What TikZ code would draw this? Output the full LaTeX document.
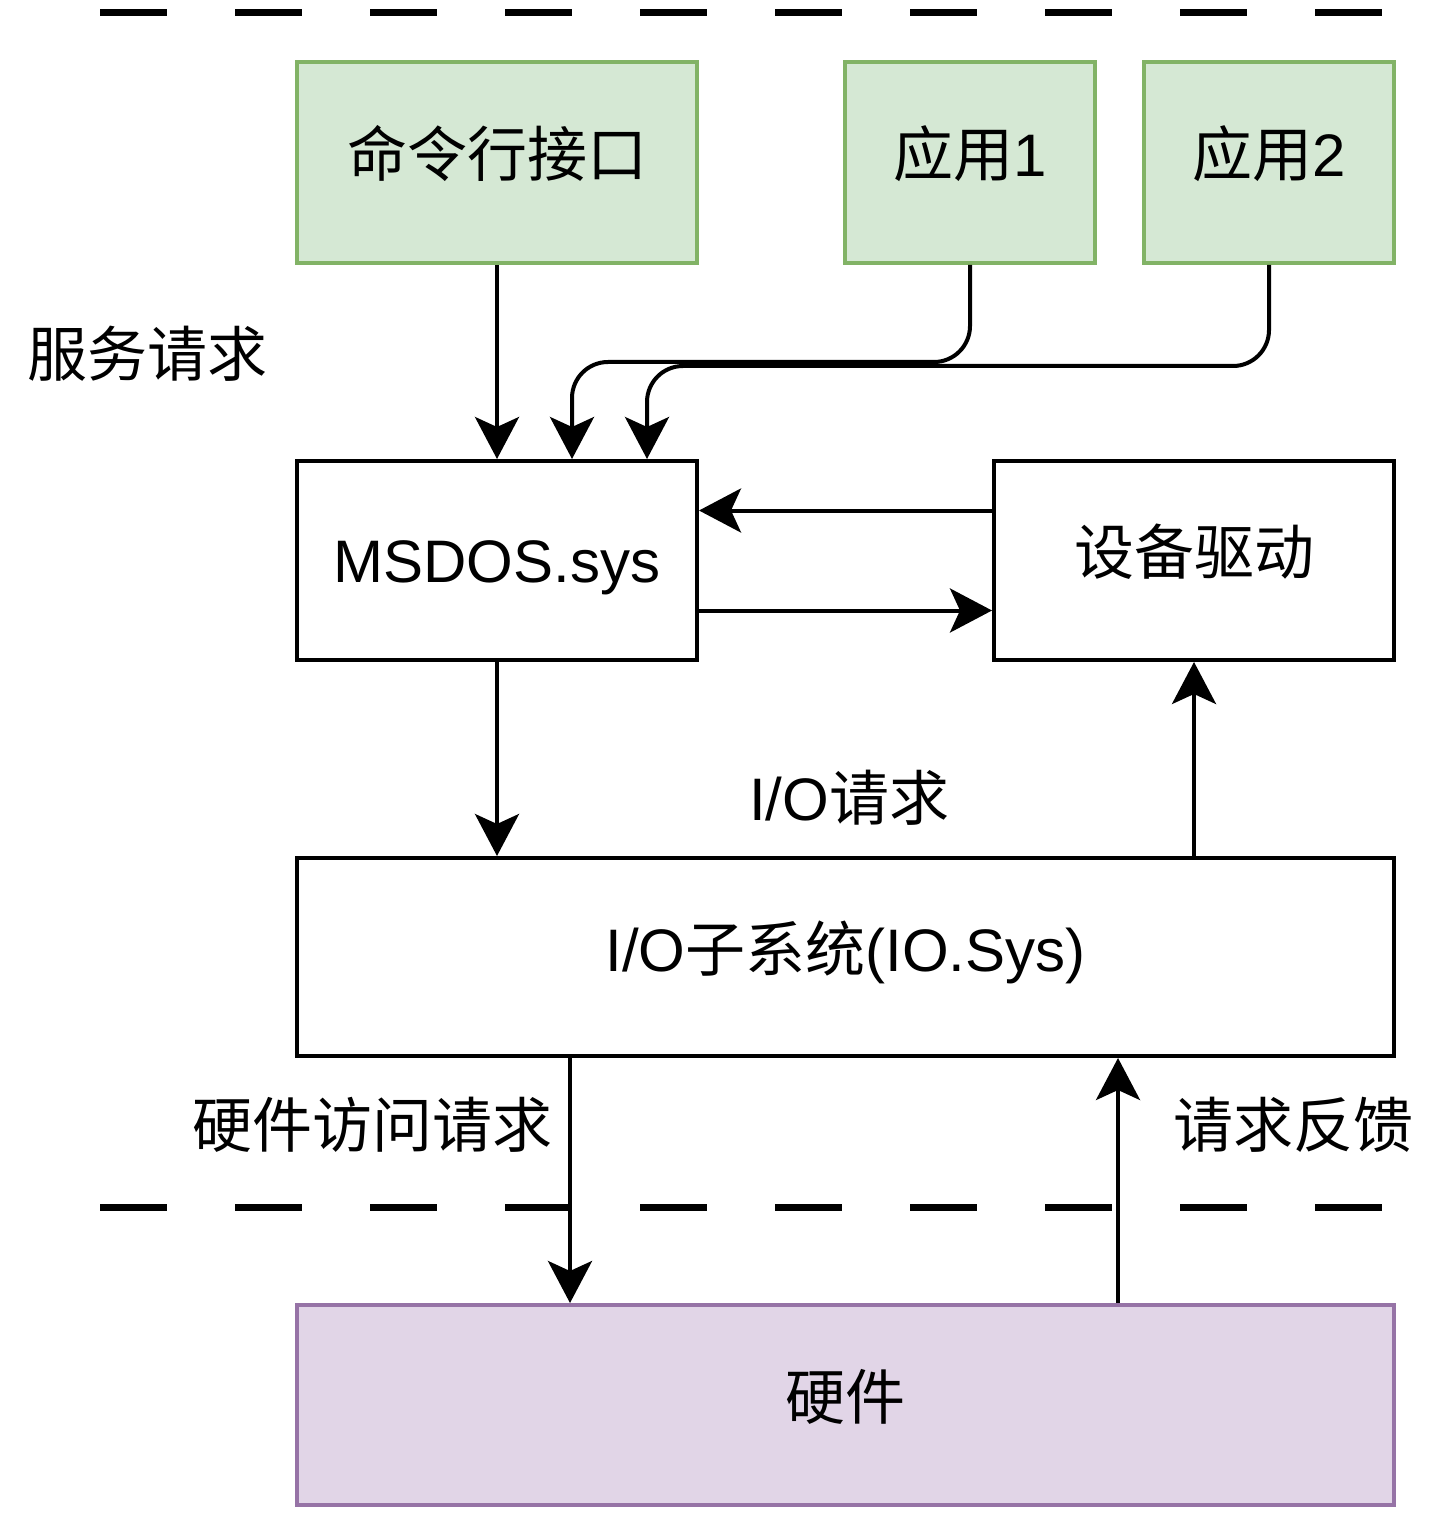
\documentclass[tikz,border=0pt]{standalone}
\usepackage{fontspec}
\setmainfont{Liberation Sans}
\newfontfamily\cjk{Noto Sans CJK SC}
\usetikzlibrary{arrows.meta,calc}
\definecolor{gfill}{HTML}{D5E8D4}
\definecolor{gline}{HTML}{82B366}
\definecolor{pfill}{HTML}{E1D5E7}
\definecolor{pline}{HTML}{9673A6}
\tikzset{
  box/.style={draw=black, line width=2pt, inner sep=0pt, text height=14.3pt, text depth=0pt,
    font=\fontsize{30pt}{35pt}\selectfont},
  latinbox/.style={box, text height=21.5pt},
  gbox/.style={box, draw=gline, fill=gfill},
  pbox/.style={box, draw=pline, fill=pfill},
  lbl/.style={inner sep=0pt, text height=22.8pt, text depth=0pt, font=\fontsize{30pt}{35pt}\selectfont},
  arr/.style={line width=2pt, -{Stealth[length=21pt, width=22pt, inset=5pt]}},
  sepline/.style={line width=3.5pt, dash pattern=on 33.5pt off 34pt}
}
\begin{document}
\begin{tikzpicture}[x=0.5pt, y=-0.5pt]
\useasboundingbox (0,0) rectangle (1440,1518);
% separators
\coordinate (t1) at (100,13);
\coordinate (t2) at (1382,13);
\coordinate (b1) at (100,1207);
\coordinate (b2) at (1382,1207);
\draw[sepline] (t1) -- (t2);
\draw[sepline] (b1) -- (b2);
% boxes
\node[gbox, minimum width=200pt, minimum height=100.5pt] (cmd) at (497,162.5) {\cjk 命令行接口};
\node[gbox, minimum width=125pt, minimum height=100.5pt] (app1) at (970,162.5) {{\cjk 应用}1};
\node[gbox, minimum width=125pt, minimum height=100.5pt] (app2) at (1269,162.5) {{\cjk 应用}2};
\node[latinbox, minimum width=200pt, minimum height=99.5pt] (msdos) at (497,560.5) {MSDOS.sys};
\node[box, minimum width=200pt, minimum height=99.5pt] (drv) at (1194,560.5) {\cjk 设备驱动};
\node[box, minimum width=548.5pt, minimum height=99pt] (io) at (845.5,957) {I/O{\cjk 子系统}(IO.Sys)};
\node[pbox, minimum width=548.5pt, minimum height=100pt] (hw) at (845.5,1405) {\cjk 硬件};
% labels
\node[lbl] (l1) at (147.5,353.5) {\cjk 服务请求};
\node[lbl] (l2) at (849,798) {I/O{\cjk 请求}};
\node[lbl] (l3) at (372,1125) {\cjk 硬件访问请求};
\node[lbl] (l4) at (1293,1125) {\cjk 请求反馈};
% connectors
\coordinate (m1) at ($(msdos.north)+(75,0)$);
\coordinate (m2) at ($(msdos.north)+(150,0)$);
\draw[arr] (cmd) -- (msdos);
\draw[arr, rounded corners=18pt] (app1.south) -- ++(0,97) -| (m1);
\draw[arr, rounded corners=18pt] (app2.south) -- ++(0,101) -| (m2);
\draw[arr] ($(drv.west)+(0,-50)$) -- ($(msdos.east)+(0,-50)$);
\draw[arr] ($(msdos.east)+(0,50)$) -- ($(drv.west)+(0,50)$);
\draw[arr] (msdos.south) -- (msdos.south |- io.north);
\draw[arr] (io.north -| drv.south) -- (drv.south);
\draw[arr] ($(io.south west)+(275,0)$) -- ($(hw.north west)+(275,0)$);
\draw[arr] ($(hw.north west)+(823,0)$) -- ($(io.south west)+(823,0)$);
\end{tikzpicture}
\end{document}
